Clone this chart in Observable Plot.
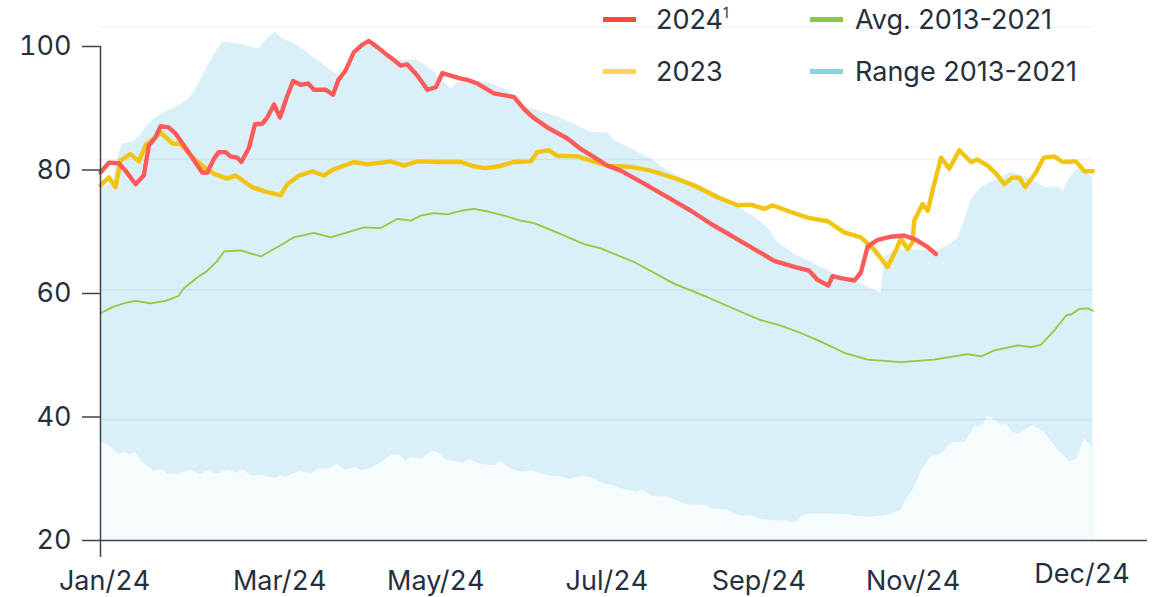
<!DOCTYPE html>
<html><head><meta charset="utf-8">
<script src="https://cdn.jsdelivr.net/npm/d3@7"></script>
<script src="https://cdn.jsdelivr.net/npm/@observablehq/plot@0.6"></script>
<style>
body{margin:0;background:#fff;font-family:Inter,"Open Sans",sans-serif;color:#25303e}
#wrap{position:relative;width:1155px;height:597px;overflow:hidden}
.item{position:absolute;display:flex;align-items:center;font-size:27px;line-height:1;white-space:nowrap;color:#25303e}
.sw{display:inline-block;width:33px;height:5px;margin-right:20px}
sup{font-size:14px;vertical-align:11px}
</style></head>
<body><div id="wrap"><div id="chart"></div></div>
<script>
// ---- data (x = day of year 2024, y = value) ----
const days2024 = [0,3.1,6.7,9.2,12.9,15.9,17.8,20.2,22.1,25.1,27.6,31.9,37.4,39.3,41.7,43.5,46.0,47.8,50.3,51.8,54.6,56.8,59.5,61.3,63.8,66.0,68.1,70.8,73.6,76.4,78.5,82.8,85.5,87.5,90.1,93.2,96.3,98.7,101.8,104.9,107.9,110.4,112.8,116.5,120.2,123.3,125.7,128.8,132.5,134.9,138.6,144.7,152.1,155.7,158.8,164.3,171.7,176.6,181.5,186.4,191.3,199.9,208.5,217.1,224.4,233.0,240.4,247.7,255.1,260.6,263.7,267.6,269.2,272.3,277.2,279.6,282.1,285.8,290.7,295.5,299.9,304.2,307.2];
const vals2024 = [79.6,81.2,81.1,79.9,77.7,79.1,84.0,85.3,87.1,86.9,85.9,83.2,79.6,79.6,81.8,82.9,82.9,82.2,82.0,81.3,83.6,87.4,87.5,88.5,90.6,88.5,91.3,94.4,93.8,94.0,93.0,93.0,92.2,94.6,96.1,99.1,100.3,100.9,99.9,98.8,97.8,96.9,97.1,95.3,93.0,93.4,95.7,95.3,94.8,94.6,94.0,92.4,91.8,89.9,88.6,86.9,85.1,83.4,82.1,80.7,79.9,77.8,75.6,73.4,71.3,69.1,67.2,65.3,64.3,63.7,62.2,61.3,62.8,62.5,62.1,63.4,67.6,68.7,69.2,69.4,68.7,67.5,66.4];

const days2023 = [0,3.1,5.5,7.4,11.0,14.1,16.6,19.6,22.1,26.4,29.4,33.7,37.4,41.7,46.6,49.7,55.8,60.7,66.2,68.7,73.0,77.9,82.2,85.2,88.3,93.2,98.1,106.7,111.6,116.5,125.1,132.5,137.3,141.6,146.5,152.1,158.2,160.7,164.9,168.0,175.4,180.3,186.4,195.0,202.4,210.9,218.3,226.9,234.3,239.1,244.0,247.1,253.9,260.0,267.4,273.5,279.6,284.5,289.4,292.5,294.3,296.8,298.6,299.2,302.3,304.2,306.6,309.1,312.1,315.8,320.1,322.5,326.2,329.3,332.3,335.4,337.9,340.0,344.0,346.8,350.7,353.8,358.7,361.8,364.9];
const vals2023 = [77.5,78.8,77.2,81.5,82.6,81.4,84.0,85.1,86.1,84.3,84.2,82.1,80.7,79.4,78.6,79.1,77.2,76.5,75.9,77.7,79.1,79.8,79.1,80.0,80.5,81.3,80.9,81.4,80.7,81.4,81.3,81.3,80.6,80.3,80.6,81.3,81.4,82.9,83.2,82.3,82.2,81.5,80.7,80.5,79.9,78.7,77.5,75.6,74.3,74.4,73.7,74.3,73.2,72.3,71.7,69.9,69.1,67.1,64.3,67.0,68.9,67.2,68.3,71.8,74.5,73.4,77.8,82.0,80.2,83.2,81.3,81.7,80.7,79.4,77.7,78.8,78.7,77.2,79.6,82.0,82.2,81.3,81.4,79.8,79.8];

const daysAvg = [0,4.4,9.2,12.9,18.4,23.9,28.7,30.6,35.6,39.3,43.0,45.4,51.5,58.9,66.2,71.1,78.5,84.6,90.8,96.9,103.0,109.2,114.1,117.7,122.6,127.6,132.5,137.3,142.3,148.4,154.5,159.4,165.6,177.8,184.0,196.2,210.9,223.2,236.7,242.8,250.2,257.5,264.9,273.5,282.1,294.3,306.5,318.9,323.8,328.7,337.3,342.2,345.8,350.7,355.0,356.9,359.9,363.0,364.9];
const valsAvg = [56.8,57.8,58.5,58.8,58.4,58.8,59.6,60.8,62.6,63.7,65.3,66.8,67.0,66.0,67.8,69.1,69.8,69.1,69.9,70.7,70.6,72.1,71.8,72.6,73.0,72.8,73.4,73.7,73.3,72.6,71.8,71.4,70.3,68.0,67.3,65.1,61.6,59.4,56.8,55.7,54.8,53.6,52.2,50.4,49.3,48.9,49.3,50.2,49.8,50.8,51.6,51.3,51.7,54.0,56.4,56.6,57.5,57.6,57.2];

const daysMax = [0,4.3,6.1,8.0,11.7,14.1,17.8,21.4,25.1,28.8,31.9,33.7,37.4,40.5,44.8,50.9,58.2,61.3,64.4,66.9,71.7,76.6,81.6,86.5,90.1,93.2,95.7,100.6,105.5,110.4,116.5,121.4,125.1,128.8,131.2,137.3,143.5,149.6,157.0,161.9,168.0,174.1,180.3,186.4,188.9,196.2,202.4,208.5,215.9,224.4,233.0,240.4,245.3,249.0,255.1,262.4,269.8,277.2,282.1,287.0,288.4,293.1,300.5,307.8,311.5,315.2,317.7,320.1,323.8,328.7,334.8,340.9,347.1,352.0,354.4,355.7,359.3,363.0,364.9];
const valsMax = [77.0,77.8,81.5,84.2,84.5,85.3,87.5,88.8,89.6,90.4,91.3,92.1,95.0,97.7,100.7,100.4,99.6,101.2,102.3,101.2,100.4,98.8,97.2,95.6,94.8,97.7,99.9,100.2,98.5,97.7,97.8,96.4,94.8,93.1,94.0,94.5,94.0,92.9,90.1,89.5,88.6,87.5,86.1,86.0,84.8,83.2,81.8,79.9,78.3,76.7,74.5,72.4,70.7,68.3,66.4,64.8,63.2,62.1,61.0,60.1,66.0,67.1,67.0,67.0,67.7,68.9,71.8,75.1,77.2,78.3,79.6,78.8,77.2,77.2,76.6,78.3,80.2,79.4,78.6];

const daysMin = [0,2.5,6.7,9.2,11.0,12.9,15.3,19.6,22.7,25.1,29.4,33.1,36.8,39.3,42.9,47.2,49.7,52.7,55.2,59.5,64.4,66.2,68.1,73.0,77.3,80.3,84.0,87.1,89.5,93.8,96.3,99.3,103.0,107.3,110.4,112.2,114.1,118.4,122.0,123.9,126.9,130.6,133.1,135.5,139.2,144.7,147.2,150.8,154.5,158.8,162.5,166.8,169.9,172.9,176.9,180.4,185.3,188.1,191.6,197.2,199.3,203.5,207.7,211.1,215.3,222.3,225.1,230.7,234.9,239.8,242.5,247.4,253.0,255.1,257.9,260.7,267.0,271.2,274.6,278.1,283.7,289.3,294.2,296.3,299.1,301.9,305.4,308.9,313.1,318.0,321.4,324.2,326.3,329.1,331.2,333.3,335.4,338.2,342.4,346.6,350.8,356.3,359.1,361.9,364.6];
const valsMin = [35.8,35.6,34.0,34.3,33.9,34.3,32.7,31.2,31.4,30.7,30.8,31.4,30.7,31.2,30.8,31.4,30.9,31.4,30.5,30.5,30.1,30.5,30.2,31.2,30.8,31.6,31.6,32.4,31.4,31.8,31.3,31.6,32.5,33.9,33.8,32.8,33.4,33.2,34.5,34.3,33.1,32.8,32.5,33.1,32.4,32.1,32.8,31.6,31.1,31.3,30.7,30.4,30.2,29.9,30.4,30.2,29.1,29.0,28.4,27.8,28.1,27.1,27.1,26.6,25.8,25.7,25.1,24.9,24.0,23.9,23.5,23.2,23.1,22.8,23.8,24.3,24.3,24.2,24.2,23.9,23.8,24.0,24.9,26.6,28.5,31.3,33.6,34.0,35.8,35.9,38.4,38.4,40.2,39.4,38.6,38.8,37.5,37.3,38.6,37.7,35.4,32.7,33.2,36.5,35.1];

const yTicks = [20, 40, 60, 80, 100];
const gridLevels = [103.1, 81.7, 60.6, 39.6];
const xTickDays = [1.5, 65.9, 123.3, 186.2, 242.1, 298.8];
const xTickLabels = ["Jan/24", "Mar/24", "May/24", "Jul/24", "Sep/24", "Nov/24"];
const xLastTickDay = [360.9];
const xLastTickLabel = ["Dec/24"];

const legendItems = [
  {label: "2024", sup: "1", color: "#ff4545", col: 0, row: 0},
  {label: "2023", sup: "", color: "#ffd54a", col: 0, row: 1},
  {label: "Avg. 2013-2021", sup: "", color: "#8dc63f", col: 1, row: 0},
  {label: "Range 2013-2021", sup: "", color: "#8fd0dc", col: 1, row: 1}
];

// ---- build ----
const toRows = (ds, vs) => ds.map((d, i) => ({day: d, v: vs[i]}));
const s2024 = toRows(days2024, vals2024);
const s2023 = toRows(days2023, vals2023);
const sAvg = toRows(daysAvg, valsAvg);
const sMax = toRows(daysMax, valsMax);
const sMin = toRows(daysMin, valsMin);

const axisColor = "#3a4552";

const chart = Plot.plot({
  width: 1155,
  height: 597,
  marginLeft: 100,
  marginRight: 8,
  marginTop: 46,
  marginBottom: 57,
  style: {fontFamily: "Inter, 'Open Sans', sans-serif", fontSize: "27px", color: "#25303e", background: "transparent"},
  x: {type: "linear", domain: [0, 385]},
  y: {domain: [20, 100]},
  marks: [
    Plot.areaY(sMax, {x: "day", y1: 20, y2: "v", fill: "#d9f0f8", curve: "linear"}),
    Plot.areaY(sMin, {x: "day", y1: 20, y2: "v", fill: "#f6fbfd", curve: "linear"}),
    Plot.ruleY(gridLevels, {x1: 0, x2: 365, stroke: "#000", strokeOpacity: 0.05, strokeWidth: 1.5}),
    Plot.line(sAvg, {x: "day", y: "v", stroke: "#94c83d", strokeWidth: 1.8}),
    Plot.line(s2023, {x: "day", y: "v", stroke: "#f2c40f", strokeWidth: 4.4, strokeLinejoin: "round"}),
    Plot.line(s2024, {x: "day", y: "v", stroke: "#ff5a5a", strokeWidth: 4.4, strokeLinejoin: "round"}),
    Plot.ruleX([0], {stroke: axisColor, strokeWidth: 1.5, insetBottom: -17}),
    Plot.ruleY([20], {stroke: axisColor, strokeWidth: 1.5}),
    Plot.axisY({ticks: yTicks, tickSize: 18, tickPadding: 11, stroke: axisColor, strokeWidth: 1.5, fontSize: 27, label: null}),
    Plot.axisX({ticks: xTickDays, tickFormat: (d, i) => xTickLabels[i], tickSize: 0, tickPadding: 30, fontSize: 27, label: null}),
    Plot.axisX({ticks: xLastTickDay, tickFormat: (d, i) => xLastTickLabel[i], tickSize: 0, tickPadding: 23, fontSize: 27, label: null})
  ]
});
document.getElementById("chart").appendChild(chart);

// ---- legend (HTML overlay) ----
const wrap = document.getElementById("wrap");
const colLeft = [603, 810];
const rowMid = [19, 71];
legendItems.forEach(it => {
  const div = document.createElement("div");
  div.className = "item";
  div.style.left = colLeft[it.col] + "px";
  div.style.top = (rowMid[it.row] - 14) + "px";
  div.style.height = "28px";
  const sw = document.createElement("span");
  sw.className = "sw";
  sw.style.background = it.color;
  sw.style.marginRight = it.col === 0 ? "20px" : "12px";
  div.appendChild(sw);
  const t = document.createElement("span");
  t.textContent = it.label;
  if (it.sup) { const s = document.createElement("sup"); s.textContent = it.sup; t.appendChild(s); }
  div.appendChild(t);
  wrap.appendChild(div);
});
</script>
</body></html>
